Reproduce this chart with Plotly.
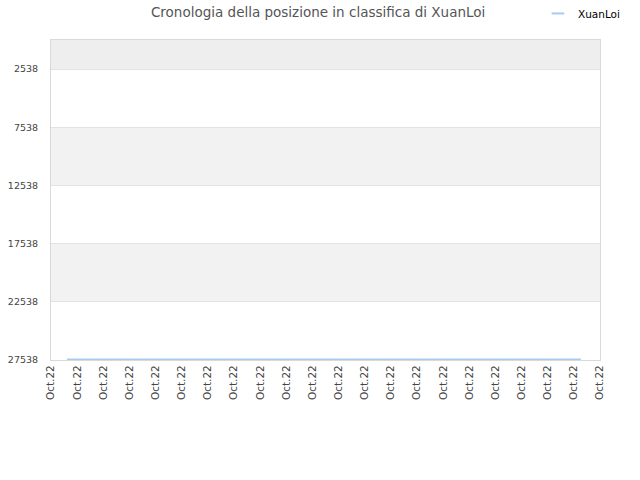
import plotly.graph_objects as go

# rank history of XuanLoi (October 2022)
dates = ["2022-10-01 14:40", "2022-10-21 06:30"]
ranks = [27480, 27480]

tick_values = [2538, 7538, 12538, 17538, 22538, 27538]
tick_labels = [str(v) for v in tick_values]

player = "XuanLoi"
title = "Cronologia della posizione in classifica di " + player
line_color = "#a8cbef"

fig = go.Figure()

fig.add_trace(go.Scatter(
    x=dates, y=ranks, mode="lines", name=player, showlegend=False,
    line=dict(color=line_color, width=1.5),
))
# short legend sample, like the original widget
fig.add_trace(go.Scatter(
    x=[None], y=[None], mode="markers", name=player,
    marker=dict(symbol="line-ew-open", size=9, color=line_color,
                line=dict(color=line_color, width=2)),
))

# alternating background bands between grid lines
band_edges = [38] + tick_values
for i in range(len(band_edges) - 1):
    if i % 2 == 0:
        fig.add_shape(
            type="rect", xref="paper", yref="y", layer="below",
            x0=0, x1=1, y0=band_edges[i], y1=band_edges[i + 1],
            fillcolor="#eeeeee" if i == 0 else "#f2f2f2", line_width=0,
        )

fig.update_layout(
    width=640, height=480,
    margin=dict(l=51, r=40, t=40, b=120, autoexpand=False),
    paper_bgcolor="white", plot_bgcolor="white",
    font=dict(family="DejaVu Sans", size=10, color="#444444"),
    title=dict(text=title, x=0.497, xanchor="center", y=0.975, yanchor="middle",
               font=dict(size=13.5, color="#555555")),
    legend=dict(x=0.887, y=0.972, xanchor="left", yanchor="middle",
                yref="container", font=dict(size=10.5, color="#000000"),
                itemwidth=30, bgcolor="rgba(0,0,0,0)"),
    showlegend=True,
)

fig.update_xaxes(
    type="date", range=["2022-10-01", "2022-10-22"],
    tickmode="linear", tick0="2022-10-01", dtick=86400000,
    tickformat="%b.%y", tickangle=-90,
    showgrid=False, showline=True, linecolor="#d9d9d9", mirror=True,
    zeroline=False, ticks="", tickfont=dict(size=10.5),
)
fig.update_yaxes(
    range=[27538, 38], tickvals=tick_values, ticktext=tick_labels,
    showgrid=True, gridcolor="#e3e3e3", showline=True, linecolor="#d9d9d9",
    mirror=True, zeroline=False, ticks="", tickfont=dict(size=9.5),
    ticklabelstandoff=10,
)

fig.write_html("out.html", config={"displayModeBar": False},
               post_script="document.body.style.margin='0';")
